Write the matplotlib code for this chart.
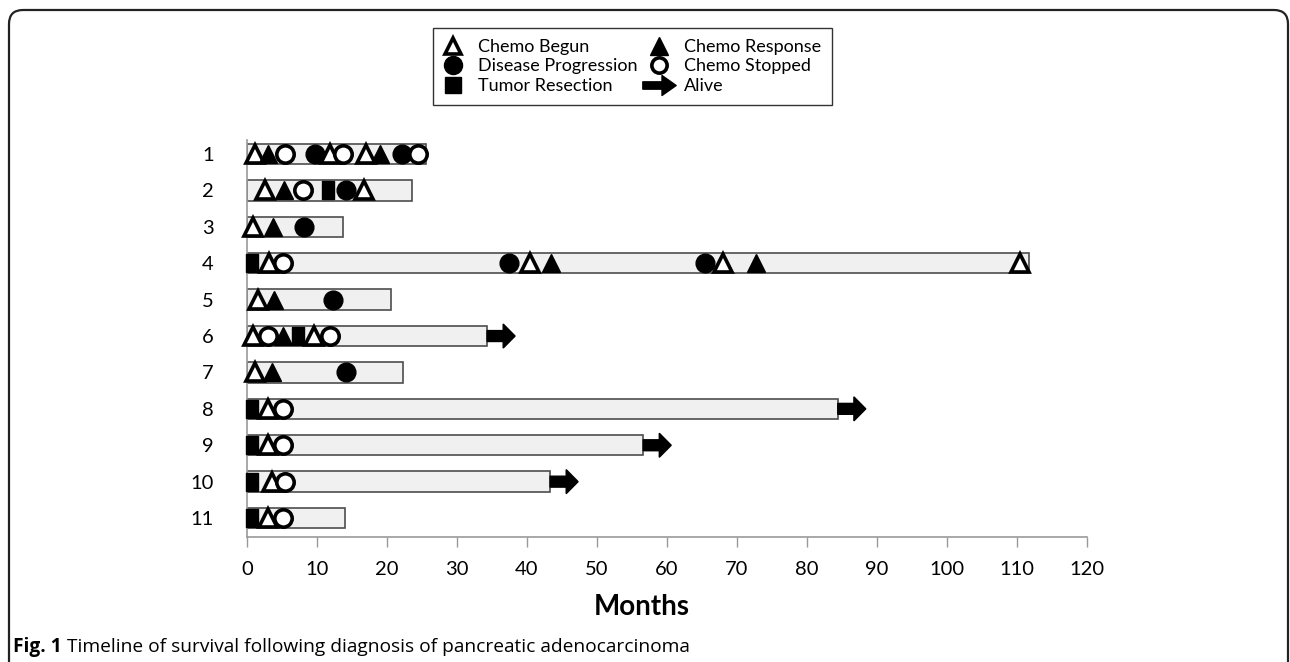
import matplotlib
matplotlib.use('Agg')
import matplotlib.pyplot as plt
from matplotlib.patches import FancyBboxPatch, FancyArrow
from matplotlib.lines import Line2D
from matplotlib.path import Path
from matplotlib.transforms import IdentityTransform

plt.rcParams['font.family'] = ['Lato', 'DejaVu Sans']

# ---- data ----
patients = list(range(1, 12))
survival_months = [25.6, 23.6, 13.7, 111.7, 20.6, 34.3, 22.3, 84.4, 56.6, 43.3, 14.0]
alive = [False, False, False, False, False, True, False, True, True, True, False]

begun_pt = [1, 1, 1, 2, 2, 3, 4, 4, 4, 4, 5, 6, 6, 7, 8, 9, 10, 11]
begun_mo = [1.1, 11.9, 17.0, 2.6, 16.7, 0.9, 3.1, 40.4, 68.0, 110.4, 1.6, 0.8, 9.6, 1.1, 3.0, 3.0, 3.5, 3.0]
response_pt = [1, 1, 2, 3, 4, 4, 5, 6, 7]
response_mo = [3.0, 19.0, 5.3, 3.7, 43.4, 72.7, 3.9, 5.1, 3.6]
progression_pt = [1, 1, 2, 3, 4, 4, 5, 7]
progression_mo = [9.7, 22.1, 14.1, 8.1, 37.4, 65.4, 12.3, 14.1]
stopped_pt = [1, 1, 1, 2, 4, 6, 6, 8, 9, 10, 11]
stopped_mo = [5.4, 13.7, 24.4, 8.0, 5.1, 3.0, 11.9, 5.1, 5.2, 5.4, 5.1]
resection_pt = [2, 4, 6, 8, 9, 10, 11]
resection_mo = [11.6, 0.7, 7.3, 0.7, 0.7, 0.7, 0.7]

xticks = list(range(0, 121, 10))
xlabel = "Months"
caption_bold = "Fig. 1"
caption_text = "Timeline of survival following diagnosis of pancreatic adenocarcinoma"

# ---- markers ----
rect_marker = Path([(-0.33, -0.5), (0.33, -0.5), (0.33, 0.5), (-0.33, 0.5), (-0.33, -0.5)],
                   [Path.MOVETO, Path.LINETO, Path.LINETO, Path.LINETO, Path.CLOSEPOLY])
arrow_marker = Path([(-1, -0.22), (0.15, -0.22), (0.15, -0.6), (1, 0), (0.15, 0.6), (0.15, 0.22),
                     (-1, 0.22), (-1, -0.22)],
                    [Path.MOVETO] + [Path.LINETO] * 6 + [Path.CLOSEPOLY])

fig = plt.figure(figsize=(12.9, 6.62), dpi=100)
ax = fig.add_axes([247 / 1290, 1 - 537 / 662, 840 / 1290, 397 / 662])

ax.barh(patients, survival_months, height=0.56, left=0, color='#f0f0f0',
        edgecolor='#4d4d4d', linewidth=1.2, zorder=2)

for p, s, a in zip(patients, survival_months, alive):
    if a:
        ax.add_patch(FancyArrow(s, p, 4.0, 0, width=0.30, head_width=0.66, head_length=1.7,
                                length_includes_head=True, color='black', zorder=3))

ms = 13
ax.plot(begun_mo, begun_pt, ls='none', marker='^', ms=ms, mfc='white', mec='black', mew=2.6, zorder=4, clip_on=False)
ax.plot(response_mo, response_pt, ls='none', marker='^', ms=ms, mfc='black', mec='black', mew=1, zorder=4, clip_on=False)
ax.plot(progression_mo, progression_pt, ls='none', marker='o', ms=ms + 0.5, mfc='black', mec='black', mew=1, zorder=4, clip_on=False)
ax.plot(stopped_mo, stopped_pt, ls='none', marker='o', ms=ms - 0.5, mfc='white', mec='black', mew=2.6, zorder=4, clip_on=False)
ax.plot(resection_mo, resection_pt, ls='none', marker=rect_marker, ms=ms, mfc='black', mec='black', mew=1, zorder=4, clip_on=False)

ax.set_xlim(0, 120)
ax.set_ylim(11.52, 0.615)
ax.set_xticks(xticks)
ax.set_yticks(patients)
ax.tick_params(axis='x', length=7, width=1, color='#999999', labelsize=14.5, pad=10)
ax.tick_params(axis='y', length=0, labelsize=14.5, pad=24)
for side in ['top', 'right']:
    ax.spines[side].set_visible(False)
for side in ['left', 'bottom']:
    ax.spines[side].set_color('#999999')
    ax.spines[side].set_linewidth(1.2)

fig.text(642 / 1290, 1 - 607 / 662, xlabel, ha='center', va='center', fontsize=20, fontweight='bold')

# legend
handles = [
    Line2D([], [], ls='none', marker='^', ms=12, mfc='white', mec='black', mew=2.6),
    Line2D([], [], ls='none', marker='o', ms=13, mfc='black', mec='black'),
    Line2D([], [], ls='none', marker='s', ms=12, mfc='black', mec='black'),
    Line2D([], [], ls='none', marker='^', ms=13, mfc='black', mec='black'),
    Line2D([], [], ls='none', marker='o', ms=11, mfc='white', mec='black', mew=2.6),
    Line2D([], [], ls='none', marker=arrow_marker, ms=24, mfc='black', mec='black'),
]
labels = ["Chemo Begun", "Disease Progression", "Tumor Resection",
          "Chemo Response", "Chemo Stopped", "Alive"]
leg = fig.legend(handles, labels, ncol=2, loc='upper left', bbox_to_anchor=(433 / 1290, 1 - 28 / 662),
                 frameon=True, fancybox=False, edgecolor='black', fontsize=13,
                 handlelength=1.0, handletextpad=0.9, columnspacing=0.67, labelspacing=0.2,
                 borderpad=0.6, borderaxespad=0)
leg.get_frame().set_linewidth(1.0)

# outer frame
fig.add_artist(FancyBboxPatch((9, -60), 1279, 662 - 10 + 60,
                              boxstyle="round,pad=0,rounding_size=14",
                              transform=IdentityTransform(), fill=False,
                              edgecolor='#222222', linewidth=1.6, clip_on=False))

# caption
t1 = fig.text(13 / 1290, 1 - 647 / 662, caption_bold, ha='left', va='center', fontsize=13.8,
              fontweight='bold', family=['Open Sans', 'DejaVu Sans'])
ax.annotate(caption_text, xy=(1, 0.5), xycoords=t1, xytext=(4, 0), textcoords='offset points',
            ha='left', va='center', fontsize=13.8, annotation_clip=False,
            family=['Open Sans', 'DejaVu Sans'])

fig.savefig('out.png', dpi=100)
